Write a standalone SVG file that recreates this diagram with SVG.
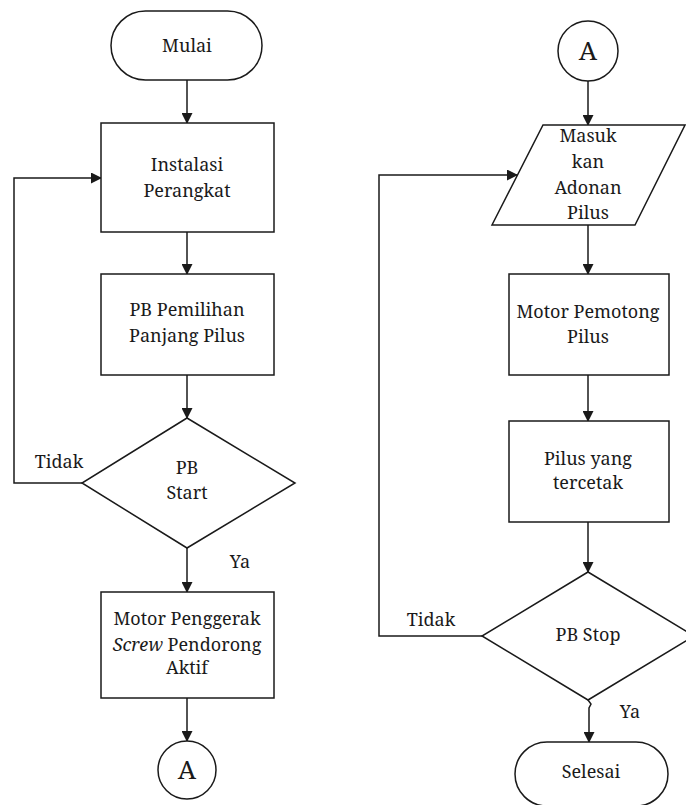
<svg xmlns="http://www.w3.org/2000/svg" width="686" height="805" viewBox="0 0 686 805" font-family="Noto Serif, Liberation Serif, serif" font-size="18">
<defs>
<marker id="ah" markerWidth="11" markerHeight="11" refX="10" refY="5.5" orient="auto" markerUnits="userSpaceOnUse">
<path d="M0,0 L11,5.5 L0,11 Z" fill="#1a1a1a"/>
</marker>
<style>
.s{fill:#fff;stroke:#1a1a1a;stroke-width:1.5}
.c{fill:none;stroke:#1a1a1a;stroke-width:1.5;marker-end:url(#ah)}
text{fill:#1a1a1a;text-anchor:middle}
</style>
</defs>
<rect width="686" height="805" fill="#fff"/>
<g id="connectors">
<line class="c" x1="187" y1="80" x2="187" y2="123"/>
<line class="c" x1="187" y1="232" x2="187" y2="274"/>
<line class="c" x1="187" y1="375" x2="187" y2="418"/>
<polyline class="c" points="82,483 14,483 14,178 101,178"/>
<line class="c" x1="187" y1="548" x2="187" y2="592"/>
<line class="c" x1="187" y1="698" x2="187" y2="741"/>
<line class="c" x1="588" y1="81" x2="588" y2="125"/>
<line class="c" x1="588" y1="225" x2="588" y2="274"/>
<line class="c" x1="588" y1="375" x2="588" y2="421"/>
<line class="c" x1="588" y1="522" x2="588" y2="572"/>
<polyline class="c" points="482,636 379,636 379,175 517,175"/>
<polyline class="c" points="588,700 591,704 589,708 589,742"/>
<text x="59" y="468">Tidak</text>
<text x="240" y="568">Ya</text>
<text x="431" y="626">Tidak</text>
<text x="630" y="718">Ya</text>
</g>
<g id="mulai">
<rect class="s" x="111" y="11" width="151" height="69" rx="34.5"/>
<text x="187" y="52">Mulai</text>
</g>
<g id="instalasi">
<rect class="s" x="101" y="123" width="173" height="109"/>
<text x="187" y="171">Instalasi</text>
<text x="187" y="197">Perangkat</text>
</g>
<g id="pemilihan">
<rect class="s" x="101" y="274" width="173" height="101"/>
<text x="187" y="316">PB Pemilihan</text>
<text x="187" y="342">Panjang Pilus</text>
</g>
<g id="pbstart">
<polygon class="s" points="187,418 295,483 187,548 82,483"/>
<text x="187" y="474">PB</text>
<text x="187" y="499">Start</text>
</g>
<g id="motorpenggerak">
<rect class="s" x="101" y="592" width="173" height="106"/>
<text x="187" y="625">Motor Penggerak</text>
<text x="187" y="651"><tspan font-style="italic">Screw</tspan> Pendorong</text>
<text x="187" y="674">Aktif</text>
</g>
<g id="connA1">
<circle class="s" cx="187" cy="770" r="29"/>
<text x="187" y="779" font-size="26">A</text>
</g>
<g id="connA2">
<circle class="s" cx="588" cy="51" r="30"/>
<text x="588" y="60" font-size="26">A</text>
</g>
<g id="masukkan">
<polygon class="s" points="543,125 685,125 635,225 492,225"/>
<text x="588" y="142">Masuk</text>
<text x="588" y="168">kan</text>
<text x="588" y="194">Adonan</text>
<text x="588" y="219">Pilus</text>
</g>
<g id="motorpemotong">
<rect class="s" x="509" y="274" width="160" height="101"/>
<text x="588" y="318">Motor Pemotong</text>
<text x="588" y="343">Pilus</text>
</g>
<g id="tercetak">
<rect class="s" x="509" y="421" width="160" height="101"/>
<text x="588" y="465">Pilus yang</text>
<text x="588" y="489">tercetak</text>
</g>
<g id="pbstop">
<polygon class="s" points="588,572 694,636 588,700 482,636"/>
<text x="588" y="641">PB Stop</text>
</g>
<g id="selesai">
<rect class="s" x="515" y="742" width="153" height="64" rx="32"/>
<text x="591" y="778">Selesai</text>
</g>
</svg>
